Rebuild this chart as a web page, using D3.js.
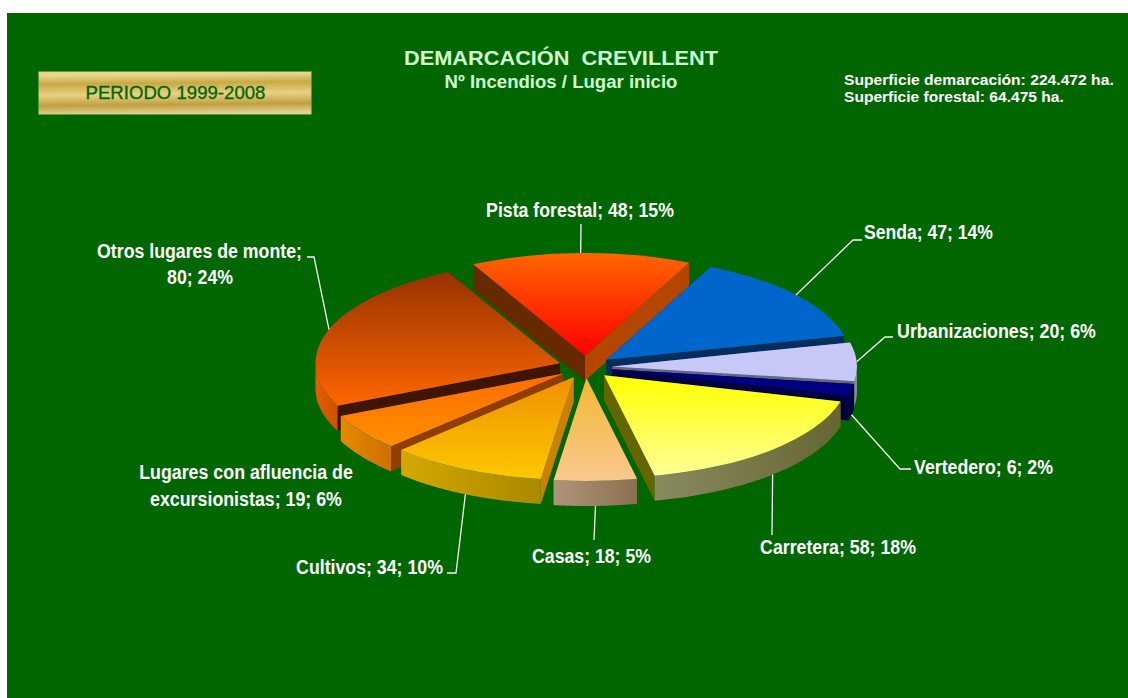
<!DOCTYPE html>
<html><head><meta charset="utf-8">
<script src="https://cdn.jsdelivr.net/npm/d3@7"></script>
<style>html,body{margin:0;padding:0;background:#fff}svg{display:block}</style>
</head><body><svg id="c" width="1128" height="698"></svg>
<script>
const categories=["Pista forestal","Senda","Urbanizaciones","Vertedero","Carretera","Casas","Cultivos","Lugares con afluencia de excursionistas","Otros lugares de monte"];
const values=[48,47,20,6,58,18,34,19,80];
const percents=[15,14,6,2,18,5,10,6,24];
const topFrom=["#ff6600","#0066cc","#c8c8f8","#000080","#ffff00","#f4b830","#f09000","#ff6c00","#963200"];
const topTo=["#ff0000","#0066cc","#c8c8f8","#000080","#ffff99","#f8c890","#fbc800","#ff9000","#ff6600"];
const wallStart=["#662900","#002f5f","#666680","#000040","#666600","#99784f","#cc8000","#8f3e00","#3d1500"];
const wallEnd=["#b34700","#002f5f","#666680","#000040","#666600","#99784f","#cc8000","#8f3e00","#3d1500"];
const rimFrom=["#b34700","#003366","#8a8aa0","#000040","#8a8a60","#b09478","#d4a800","#e68a00","#e65c00"];
const rimTo=["#b34700","#003366","#8a8aa0","#000040","#666633","#8a7050","#aa8800","#cc7000","#cc5200"];
// label layout: text lines (x centre, baseline, width), leader elbow points
const labelLines=[
 [["Pista forestal; 48; 15%",580,217,188]],
 [["Senda; 47; 14%",928.5,239,129]],
 [["Urbanizaciones; 20; 6%",996.5,338,199]],
 [["Vertedero; 6; 2%",983.5,474,139]],
 [["Carretera; 58; 18%",838,554,156]],
 [["Casas; 18; 5%",591.5,563,119]],
 [["Cultivos; 34; 10%",369.5,574,147]],
 [["Lugares con afluencia de",246,479,214],["excursionistas; 19; 6%",246,506,192]],
 [["Otros lugares de monte;",199.5,258,205],["80; 24%",200,284,66]]
];
const leaderElbows=[
 [[581,224]],
 [[853,240],[862,240]],
 [[885,337],[893,337]],
 [[900,469],[911,469]],
 [[772,535]],
 [[594,540]],
 [[456,573],[447,573]],
 [],
 [[314,257],[307,257]]
];

const svg=d3.select("#c"),defs=svg.append("defs");
const rad=d=>d*Math.PI/180;
const CX=585.5,CY=367,RX=244.5,K=0.42,EXPL=27,DEPTH=25;
svg.append("rect").attr("x",7).attr("y",13).attr("width",1121).attr("height",685).attr("fill","#006600");

const pie=d3.pie().sort(null).startAngle(rad(-27.2)).endAngle(rad(332.8));
const arcs=pie(values).map((d,i)=>{
  const mid=(d.startAngle+d.endAngle)/2;
  return {...d,i,mid,ox:CX+EXPL*Math.sin(mid),oy:CY-EXPL*K*Math.cos(mid)};
});
const pt=(s,a,r,dz=0)=>[s.ox+r*Math.sin(a),s.oy-r*K*Math.cos(a)+dz];
const line=d3.line();
function grad(id,x2,y2,c1,c2){
  const g=defs.append("linearGradient").attr("id",id).attr("x1",0).attr("y1",0).attr("x2",x2).attr("y2",y2);
  g.append("stop").attr("offset",0).attr("stop-color",c1);
  g.append("stop").attr("offset",1).attr("stop-color",c2);
}
const order=arcs.slice().sort((a,b)=>Math.cos(b.mid)-Math.cos(a.mid));
const arcGen=d3.arc().innerRadius(0).outerRadius(RX);
order.forEach(s=>{
  const i=s.i,g=svg.append("g");
  grad("t"+i,0,1,topFrom[i],topTo[i]);
  grad("r"+i,1,0,rimFrom[i],rimTo[i]);
  const wall=(a,c)=>g.append("path").attr("fill",c).attr("d",line([
    pt(s,a,0),pt(s,a,RX),pt(s,a,RX,DEPTH),pt(s,a,0,DEPTH)])+"Z");
  wall(s.startAngle,wallStart[i]);
  wall(s.endAngle,wallEnd[i]);
  // front-facing part of the rim
  const intervals=[[rad(90),rad(270)],[rad(450),rad(630)]];
  intervals.forEach(([lo,hi])=>{
    const a0=Math.max(lo,s.startAngle),a1=Math.min(hi,s.endAngle);
    if(a1<=a0) return;
    const as=d3.range(0,61).map(t=>a0+(a1-a0)*t/60);
    const pts=as.map(a=>pt(s,a,RX)).concat(as.slice().reverse().map(a=>pt(s,a,RX,DEPTH)));
    g.append("path").attr("fill",`url(#r${i})`).attr("d",line(pts)+"Z");
  });
  // top surface: d3.arc squashed into an ellipse
  g.append("path").attr("fill",`url(#t${i})`)
    .attr("transform",`translate(${s.ox},${s.oy}) scale(1,${K})`)
    .attr("d",arcGen(s));
});

// leaders
arcs.forEach(s=>{
  const i=s.i;
  if(!leaderElbows[i].length) return;
  const front=Math.cos(s.mid)<0;
  const start=pt(s,s.mid,RX,front?DEPTH:0);
  svg.append("path").attr("fill","none").attr("stroke","#f4f4f4").attr("stroke-width",1.3)
    .attr("d",line([start,...leaderElbows[i]]));
});
// text fitted to a measured width by a horizontal scale
const lab="'Liberation Sans',Arial,sans-serif";
function txt(t,x,y,w,size,weight,fill,anchor="middle"){
  const e=svg.append("text").attr("text-anchor",anchor).style("white-space","pre")
   .attr("font-family",lab).attr("font-size",size).attr("font-weight",weight).attr("fill",fill).text(t);
  const sx=w/e.node().getComputedTextLength();
  e.attr("transform",`translate(${x},${y}) scale(${sx},1)`);
  return e;
}
labelLines.forEach(ls=>ls.forEach(([t,x,y,w])=>txt(t,x,y,w,20.5,"bold","#fff")));

// header
txt("DEMARCACIÓN  CREVILLENT",561,65,314,21,"bold","#d0ffd0");
txt("Nº Incendios / Lugar inicio",561,88,233,18,"bold","#d0ffd0");
const gold=defs.append("linearGradient").attr("id","gold").attr("x1",0).attr("y1",0.1).attr("x2",0.06).attr("y2",1);
[[0,"#e8d68c"],[.22,"#c9a944"],[.5,"#e6d284"],[.78,"#c0a040"],[1,"#e2d090"]].forEach(([o,c])=>gold.append("stop").attr("offset",o).attr("stop-color",c));
svg.append("rect").attr("x",38.5).attr("y",71.5).attr("width",273).attr("height",43).attr("fill","url(#gold)").attr("stroke","#5f9a30").attr("stroke-width",.7);
txt("PERIODO 1999-2008",175.5,99,180,18,"normal","#006600").attr("stroke","#006600").attr("stroke-width",.3);
txt("Superficie demarcación: 224.472 ha.",844,85,270,14,"bold","#fff","start");
txt("Superficie forestal: 64.475 ha.",844,102,220,14,"bold","#fff","start");
</script></body></html>
